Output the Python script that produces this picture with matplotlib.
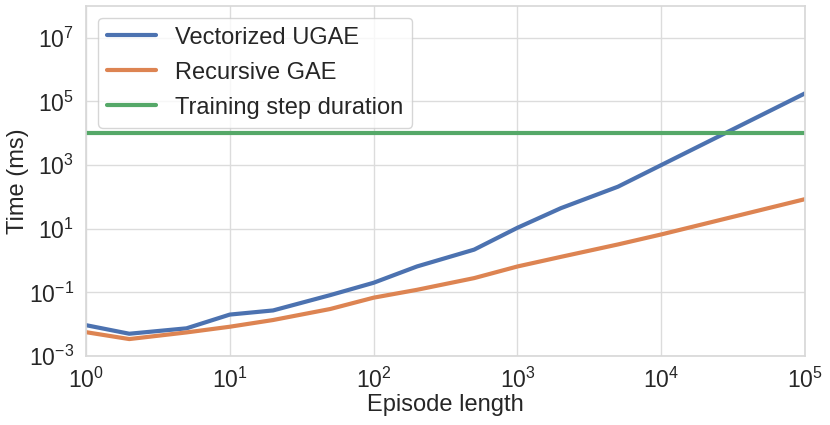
import numpy as np
import matplotlib.pyplot as plt
import seaborn as sns

sns.set_theme(style="whitegrid")
plt.rcParams['font.family'] = ['Liberation Sans', 'DejaVu Sans']

# episode lengths and timings (ms)
episode_len = [1, 2, 5, 10, 20, 50, 100, 200, 500, 1000, 2000, 5000, 10000, 100000]
ugae_ms = [0.0093, 0.005, 0.0074, 0.020, 0.027, 0.082, 0.20, 0.65, 2.2, 10.7, 44, 209, 1000, 1.8e5]
gae_ms = [0.0056, 0.0034, 0.0055, 0.0083, 0.0135, 0.030, 0.068, 0.12, 0.28, 0.65, 1.3, 3.2, 6.6, 85]
train_step_ms = 1e4

fig = plt.figure(figsize=(8.3, 4.25), dpi=100)
ax = fig.add_axes([0.1036, 0.1624, 0.8664, 0.8236])

pal = sns.color_palette("deep")
ax.plot(episode_len, ugae_ms, color=pal[0], lw=3, label="Vectorized UGAE")
ax.plot(episode_len, gae_ms, color=pal[1], lw=3, label="Recursive GAE")
ax.axhline(train_step_ms, color=pal[2], lw=3, label="Training step duration")

ax.set_xscale('log')
ax.set_yscale('log')
ax.set_xlim(1, 1e5)
ax.set_ylim(1e-3, 1e8)
ax.set_yticks([10.0**k for k in range(-3, 8, 2)])
ax.set_xticks([10.0**k for k in range(0, 6)])
ax.minorticks_off()
ax.tick_params(labelsize=16.5, pad=2.5)
ax.grid(color='#dcdcdc')
for s in ax.spines.values():
    s.set_color('#d8d8d8')

ax.set_xlabel("Episode length", fontsize=17, labelpad=1)
ax.set_ylabel("Time (ms)", fontsize=17, labelpad=0)

ax.legend(loc='upper left', fontsize=17, handlelength=2.1,
          borderaxespad=0.5, labelspacing=0.55, borderpad=0.38)

fig.savefig("out.png", dpi=100)
